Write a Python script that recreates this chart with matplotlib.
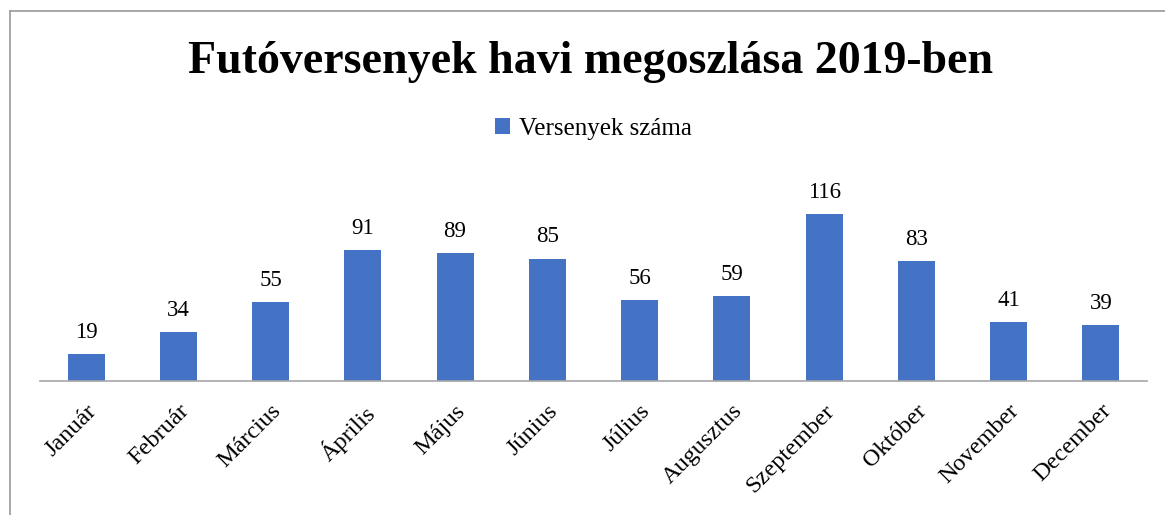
import matplotlib

matplotlib.use("Agg")
import matplotlib.pyplot as plt
from matplotlib.lines import Line2D

months = ["Január", "Február", "Március", "Április", "Május", "Június",
          "Július", "Augusztus", "Szeptember", "Október", "November", "December"]
races = [19, 34, 55, 91, 89, 85, 56, 59, 116, 83, 41, 39]
series_name = "Versenyek száma"
title = "Futóversenyek havi megoszlása 2019-ben"

W, H = 1165, 515
plt.rcParams["font.family"] = ["Liberation Serif", "DejaVu Serif"]
fig = plt.figure(figsize=(W / 100, H / 100), dpi=100)

# axes in pixel coords: left 40, right 1147, baseline 381, top 170
ax = fig.add_axes([40 / W, 1 - 381 / H, (1147 - 40) / W, (381 - 170) / H])
x = range(len(months))
bars = ax.bar(x, races, width=0.4, color="#4472C4", label=series_name)
ax.set_xlim(-0.5, len(months) - 0.5)
ax.set_ylim(0, 146.5)
for b, v in zip(bars, races):
    ax.annotate(str(v), (b.get_x() + b.get_width() / 2, v), xytext=(0, 8),
                textcoords="offset points", ha="center", va="bottom", fontsize=16.5)

ax.set_xticks(list(x))
ax.set_xticklabels(months, rotation=45, ha="right", rotation_mode="anchor", fontsize=17.5)
ax.tick_params(axis="x", length=0, pad=14)
ax.set_yticks([])
for s in ("top", "right", "left"):
    ax.spines[s].set_visible(False)
ax.spines["bottom"].set_color("#a6a6a6")
ax.spines["bottom"].set_linewidth(1.2)

fig.text(0.507, 1 - 62 / H, title, ha="center", va="center", fontsize=33, fontweight="bold")
ax.legend(loc="center", bbox_to_anchor=(0.5, (381 - 129) / (381 - 170)), bbox_transform=ax.transAxes,
          frameon=False, fontsize=18, handlelength=0.6, handleheight=0.6, handletextpad=0.35)

# outer chart border (left and top only visible)
fig.add_artist(Line2D([10 / W, 10 / W], [0, 1 - 11 / H], transform=fig.transFigure,
                      color="#a0a0a0", lw=1.3))
fig.add_artist(Line2D([10 / W, 1], [1 - 11 / H, 1 - 11 / H], transform=fig.transFigure,
                      color="#a0a0a0", lw=1.3))

fig.savefig("out.png", dpi=100)
